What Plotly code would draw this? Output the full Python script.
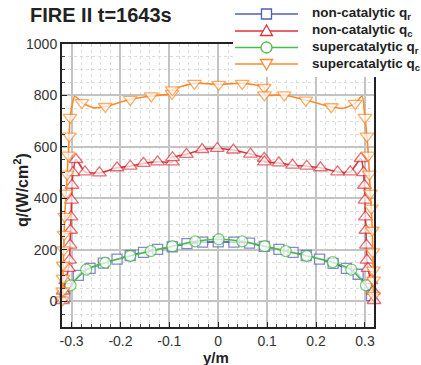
import plotly.graph_objects as go

# ---------------- data ----------------
# non-catalytic q_r (blue squares)
nc_qr_ym = [-0.3135, -0.286, -0.262, -0.235, -0.207, -0.180, -0.153, -0.124, -0.094, -0.064,
            -0.032, 0.000, 0.032, 0.064, 0.094, 0.124, 0.153, 0.180, 0.207, 0.235, 0.262, 0.286, 0.3135]
nc_qr = [18, 101, 128, 148, 164, 178, 190, 202, 212, 224,
         230, 231, 230, 226, 213, 202, 190, 178, 164, 147, 128, 105, 22]

# non-catalytic q_c (red up-triangles)
nc_qc_ym = [-0.3185, -0.317, -0.312, -0.306, -0.304, -0.303, -0.302, -0.301, -0.300, -0.299, -0.297,
            -0.291, -0.2725, -0.243, -0.207, -0.180, -0.153, -0.124, -0.094, -0.0935, -0.065, -0.033,
            -0.002, 0.031, 0.066, 0.094, 0.0945, 0.124, 0.152, 0.181, 0.209, 0.244, 0.270, 0.292,
            0.297, 0.299, 0.300, 0.301, 0.302, 0.303, 0.304, 0.306, 0.312, 0.317, 0.3185]
nc_qc = [3, 40, 80, 128, 160, 218, 276, 328, 393, 451, 500,
         551, 503, 499, 519, 525, 536, 542, 542, 558, 571, 590,
         594, 588, 572, 556, 542, 538, 529, 525, 519, 503, 503, 555,
         500, 451, 393, 328, 276, 218, 160, 128, 80, 40, 3]
nc_qc_unmarked = []

# supercatalytic q_r (green circles)
sc_qr_ym = [-0.302, -0.270, -0.231, -0.180, -0.138, -0.094, -0.047, 0.001, 0.049, 0.095,
            0.138, 0.181, 0.234, 0.272, 0.302]
sc_qr = [62, 123, 150, 176, 195, 214, 233, 241, 233, 214,
         195, 176, 152, 123, 62]

# supercatalytic q_c (orange down-triangles)
sc_qc_ym = [-0.3185, -0.318, -0.3175, -0.317, -0.316, -0.315, -0.314, -0.311, -0.309, -0.3067,
            -0.3047, -0.303, -0.293, -0.279, -0.255, -0.231, -0.180, -0.137, -0.0945, -0.094,
            -0.0487, 0.001, 0.049, 0.094, 0.0945, 0.135, 0.179, 0.231, 0.255, 0.280, 0.294,
            0.300, 0.304, 0.307, 0.309, 0.311, 0.313, 0.315, 0.316, 0.317, 0.3175, 0.318]
sc_qc = [5, 40, 90, 140, 200, 260, 330, 420, 494, 568,
         642, 715, 797, 772, 752, 757, 785, 798, 808, 822,
         847, 843, 847, 831, 802, 802, 782, 756, 750, 769, 798,
         715, 642, 568, 494, 420, 362, 276, 192, 121, 82, 23]
sc_qc_unmarked = [-0.293, -0.255, 0.255, 0.294]

series_names = ["non-catalytic q<sub>r</sub>", "non-catalytic q<sub>c</sub>",
                "supercatalytic q<sub>r</sub>", "supercatalytic q<sub>c</sub>"]

x_ticks = [-0.3, -0.2, -0.1, 0.0, 0.1, 0.2, 0.3]
x_tick_text = ["-0.3", "-0.2", "-0.1", "0", "0.1", "0.2", "0.3"]
y_ticks = [0, 200, 400, 600, 800, 1000]
dark_grid_x = [-0.2, -0.1, 0.2]
dark_grid_y = [0, 400, 600]

# ---------------- styling ----------------
FONT = "Arial, Liberation Sans, Helvetica, sans-serif"
BLUE = "#4f5fb3"
RED = "#d8343c"
GREEN = "#4cbb47"
ORANGE = "#ff8a2b"

W, H = 421, 365
ML, MR, MT, MB = 62, 47, 44, 38
PW, PH = W - ML - MR, H - MT - MB


def px2paper_x(px):
    return (px - ML) / PW


def py2paper_y(py):
    return 1 - (py - MT) / PH


def sizes(xs, hidden, s):
    return [0 if x in hidden else s for x in xs]


fig = go.Figure()

series = [
    (nc_qr_ym, nc_qr, [], BLUE, "square", 10),
    (nc_qc_ym, nc_qc, nc_qc_unmarked, RED, "triangle-up", 12),
    (sc_qr_ym, sc_qr, [], GREEN, "circle", 11),
    (sc_qc_ym, sc_qc, sc_qc_unmarked, ORANGE, "triangle-down", 12),
]

for (xs, ys, hidden, col, sym, ms), name in zip(series, series_names):
    fig.add_trace(go.Scatter(
        x=xs, y=ys, mode="lines+markers", name=name, showlegend=False,
        line=dict(color=col, width=1.6, shape="spline", smoothing=0.6),
        marker=dict(symbol=sym, size=sizes(xs, hidden, ms), color="white",
                    line=dict(color=col, width=1.3)),
        cliponaxis=False,
    ))

shapes = []
for gx in dark_grid_x:
    shapes.append(dict(type="line", xref="x", yref="paper", x0=gx, x1=gx, y0=0, y1=1,
                       line=dict(color="#555", width=1), layer="below"))
for gy in dark_grid_y:
    shapes.append(dict(type="line", xref="paper", yref="y", x0=0, x1=1, y0=gy, y1=gy,
                       line=dict(color="#555", width=1), layer="below"))

# ---- custom legend (long line samples like the reference) ----
annotations = []
shapes.append(dict(type="rect", xref="paper", yref="paper",
                   x0=px2paper_x(233), x1=px2paper_x(W + 2), y0=py2paper_y(77), y1=py2paper_y(-2),
                   fillcolor="white", line=dict(width=0), layer="above"))
row_y = [14, 31, 47.5, 64]
lx0, lx1, lxm, ltx = 235, 298, 266.5, 310
for (xs, ys, hidden, col, sym, ms), name, ry in zip(series, series_names, row_y):
    shapes.append(dict(type="line", xref="paper", yref="paper",
                       x0=px2paper_x(lx0), x1=px2paper_x(lx1), y0=py2paper_y(ry), y1=py2paper_y(ry),
                       line=dict(color=col, width=1.6), layer="above"))
    r = 5.0
    mline = dict(color=col, width=1.3)
    if sym == "square":
        shapes.append(dict(type="rect", xref="paper", yref="paper",
                           x0=px2paper_x(lxm - r), x1=px2paper_x(lxm + r),
                           y0=py2paper_y(ry + r), y1=py2paper_y(ry - r),
                           fillcolor="white", line=mline, layer="above"))
    elif sym == "circle":
        r = 5.5
        shapes.append(dict(type="circle", xref="paper", yref="paper",
                           x0=px2paper_x(lxm - r), x1=px2paper_x(lxm + r),
                           y0=py2paper_y(ry + r), y1=py2paper_y(ry - r),
                           fillcolor="white", line=mline, layer="above"))
    else:
        r = 6.0
        if sym == "triangle-up":
            pts = [(lxm, ry - r), (lxm + r, ry + r * 0.75), (lxm - r, ry + r * 0.75)]
        else:
            pts = [(lxm, ry + r), (lxm + r, ry - r * 0.75), (lxm - r, ry - r * 0.75)]
        path = "M" + " L".join(f"{px2paper_x(a):.5f},{py2paper_y(b):.5f}" for a, b in pts) + " Z"
        shapes.append(dict(type="path", xref="paper", yref="paper", path=path,
                           fillcolor="white", line=mline, layer="above"))
    annotations.append(dict(text="<b>" + name + "</b>", xref="paper", yref="paper",
                            x=px2paper_x(ltx), y=py2paper_y(ry), xanchor="left", yanchor="middle",
                            showarrow=False, font=dict(size=13.5, color="#222")))

annotations += [
    dict(text="<b>q/(W/cm<sup>2</sup>)</b>", textangle=-90, xref="paper", yref="paper",
         x=px2paper_x(21), y=py2paper_y(190), xanchor="center", yanchor="middle",
         showarrow=False, font=dict(size=16, color="#222")),
    dict(text="<b>y/m</b>", xref="paper", yref="paper", x=px2paper_x(216), y=py2paper_y(357),
         xanchor="center", yanchor="middle", showarrow=False, font=dict(size=15, color="#222")),
]

fig.update_layout(
    width=W, height=H,
    margin=dict(l=ML, r=MR, t=MT, b=MB),
    paper_bgcolor="white", plot_bgcolor="white",
    font=dict(family=FONT, color="#222"),
    showlegend=False,
    title=dict(text="<b>FIRE II t=1643s</b>", x=30 / W, xanchor="left", xref="container",
               y=1 - 15 / H, yanchor="middle", yref="container",
               font=dict(size=20, color="#222")),
    shapes=shapes,
    annotations=annotations,
)

fig.update_xaxes(
    range=[-0.3195, 0.3185], tickvals=x_ticks, ticktext=x_tick_text,
    tickfont=dict(size=14, color="#333"), ticks="inside", ticklen=5, tickcolor="#222",
    showline=True, linecolor="#222", linewidth=2, mirror=True,
    showgrid=True, gridcolor="#c4c4c4", gridwidth=1.5, zeroline=False,
    minor=dict(dtick=0.02, ticks="inside", ticklen=3, tickcolor="#444",
               showgrid=True, gridcolor="#dcdcdc", griddash="dot", gridwidth=1),
)
fig.update_yaxes(
    range=[-100, 1000], tickvals=y_ticks,
    tickfont=dict(size=14, color="#333"), ticks="inside", ticklen=5, tickcolor="#222",
    showline=True, linecolor="#222", linewidth=2, mirror=True,
    showgrid=True, gridcolor="#c4c4c4", gridwidth=1.5, zeroline=False,
    minor=dict(dtick=50, ticks="inside", ticklen=3, tickcolor="#444",
               showgrid=True, gridcolor="#dcdcdc", griddash="dot", gridwidth=1),
)

fig.write_html("out.html")
